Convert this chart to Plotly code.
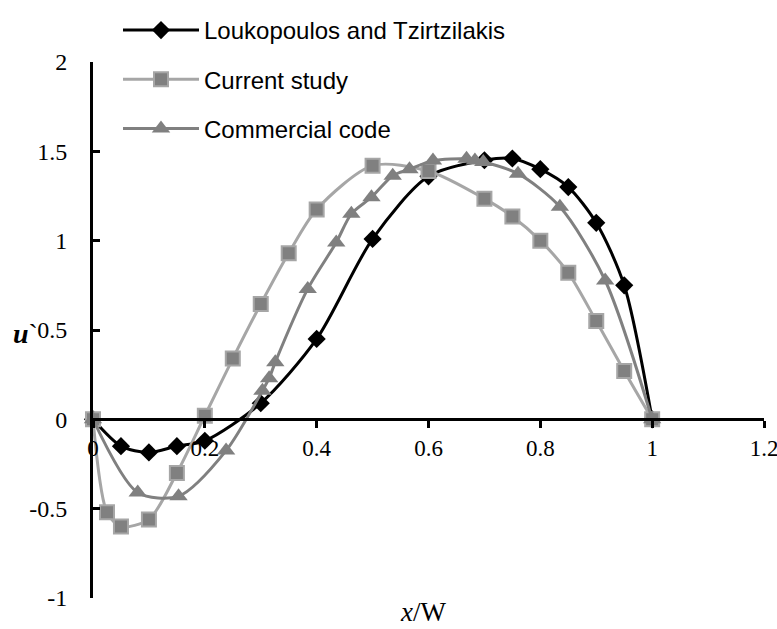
import plotly.graph_objects as go

# ---- data ----
lt_x = [0, 0.05, 0.1, 0.15, 0.2, 0.3, 0.4, 0.5, 0.6, 0.7, 0.75, 0.8, 0.85, 0.9, 0.95, 1.0]
lt_y = [0, -0.15, -0.185, -0.15, -0.12, 0.09, 0.45, 1.01, 1.36, 1.45, 1.46, 1.40, 1.30, 1.10, 0.75, 0]

cs_x = [0, 0.025, 0.05, 0.1, 0.15, 0.2, 0.25, 0.3, 0.35, 0.4, 0.5, 0.6, 0.7, 0.75, 0.8, 0.85, 0.9, 0.95, 1.0]
cs_y = [0, -0.52, -0.60, -0.56, -0.30, 0.02, 0.34, 0.645, 0.93, 1.175, 1.42, 1.39, 1.235, 1.135, 1.0, 0.82, 0.55, 0.27, 0]

cc_x = [0, 0.08, 0.153, 0.238, 0.303, 0.315, 0.326, 0.384, 0.435, 0.462, 0.498, 0.536, 0.566, 0.608, 0.668, 0.683, 0.698, 0.76, 0.835, 0.916, 1.0]
cc_y = [0, -0.41, -0.43, -0.175, 0.16, 0.23, 0.32, 0.73, 0.99, 1.15, 1.243, 1.364, 1.40, 1.448, 1.458, 1.448, 1.44, 1.375, 1.19, 0.777, 0]

names = ["Loukopoulos and Tzirtzilakis", "Current study", "Commercial code"]
x_ticks = [0, 0.2, 0.4, 0.6, 0.8, 1, 1.2]
x_tick_text = ["0", "0.2", "0.4", "0.6", "0.8", "1", "1.2"]
y_ticks = [-1, -0.5, 0, 0.5, 1, 1.5, 2]
y_tick_text = ["-1", "-0.5", "0", "0.5", "1", "1.5", "2"]

fig = go.Figure()
fig.add_trace(go.Scatter(
    x=lt_x, y=lt_y, name=names[0], legendgroup="a", mode="lines+markers",
    line=dict(color="black", width=3, shape="spline", smoothing=0.8),
    marker=dict(symbol="diamond", size=14, color="black"), cliponaxis=False))
fig.add_trace(go.Scatter(
    x=cs_x, y=cs_y, name=names[1], legendgroup="b", mode="lines+markers",
    line=dict(color="#A6A6A6", width=3, shape="spline", smoothing=0.8),
    marker=dict(symbol="square", size=14, color="#808080", line=dict(color="#A6A6A6", width=2)),
    cliponaxis=False))
fig.add_trace(go.Scatter(
    x=cc_x, y=cc_y, name=names[2], legendgroup="c", mode="lines+markers",
    line=dict(color="#808080", width=3, shape="spline", smoothing=0.8),
    marker=dict(symbol="triangle-up", size=16, color="#808080"), cliponaxis=False))

L, R, T, B = 93, 13, 62, 31
W, H = 777, 629
PW, PH = W - L - R, H - T - B

fig.update_layout(
    width=W, height=H,
    margin=dict(l=L, r=R, t=T, b=B, pad=0, autoexpand=False),
    plot_bgcolor="white", paper_bgcolor="white",
    showlegend=True,
    legend=dict(
        x=(118 - L) / PW, xanchor="left",
        y=1 + (T - 8) / PH, yanchor="top",
        font=dict(family="Liberation Sans, Arial, sans-serif", size=24, color="black"),
        itemwidth=76, tracegroupgap=15, bgcolor="rgba(0,0,0,0)",
    ),
    xaxis=dict(
        range=[0, 1.2], tickvals=x_ticks, ticktext=x_tick_text,
        showline=True, linecolor="black", linewidth=3,
        ticks="outside", ticklen=7, tickwidth=2.5, tickcolor="black",
        showgrid=False, zeroline=False,
        anchor="free", position=1 / 3,
        ticklabeloverflow="allow",
        tickfont=dict(family="Liberation Serif, Times New Roman, serif", size=23, color="black"),
    ),
    yaxis=dict(
        range=[-1, 2], tickvals=y_ticks, ticktext=y_tick_text,
        showline=True, linecolor="black", linewidth=3,
        ticks="inside", ticklen=7, tickwidth=2.5, tickcolor="black",
        showgrid=False, zeroline=False,
        ticklabelstandoff=18, ticklabeloverflow="allow",
        tickfont=dict(family="Liberation Serif, Times New Roman, serif", size=24, color="black"),
    ),
    annotations=[
        dict(text="<i>x</i>/W", xref="paper", yref="paper",
             x=(423 - L) / PW, y=-(612 - (H - B)) / PH,
             xanchor="center", yanchor="middle", showarrow=False,
             font=dict(family="Liberation Serif, Times New Roman, serif", size=27, color="black")),
        dict(text="<b><i>u</i></b>`", xref="paper", yref="paper",
             x=(40 - L) / PW, y=((H - B) - 333) / PH,
             xanchor="right", yanchor="middle", showarrow=False,
             font=dict(family="Liberation Serif, Times New Roman, serif", size=28, color="black")),
    ],
)

fig.write_html("out.html", config={"displayModeBar": False},
               post_script="document.body.style.margin='0';document.body.style.overflow='hidden';")
